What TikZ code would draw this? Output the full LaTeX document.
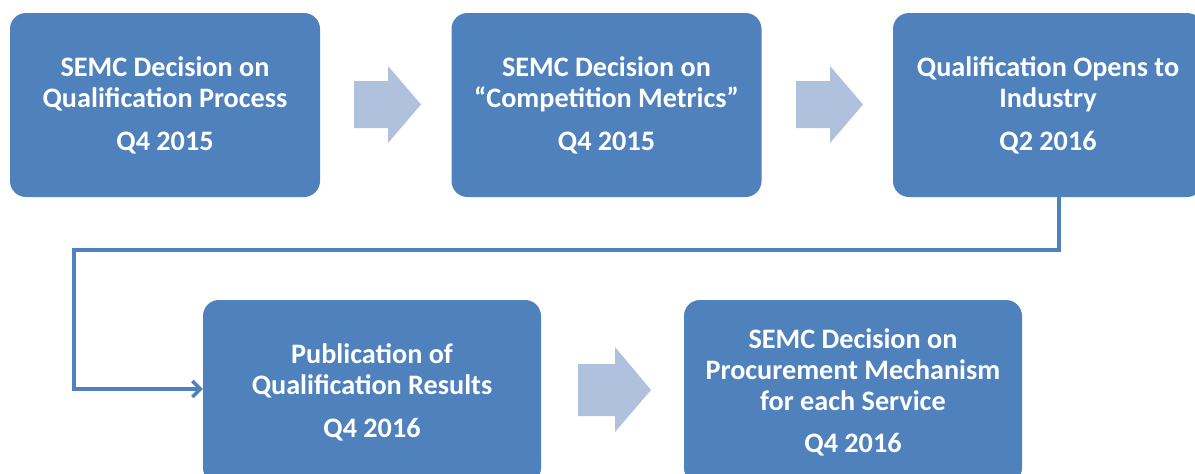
\documentclass[tikz,border=0pt]{standalone}
\usepackage{fontspec}
\setmainfont{Carlito}
\usetikzlibrary{arrows.meta}
\definecolor{boxblue}{HTML}{4F81BD}
\definecolor{arrowblue}{HTML}{B0C1DD}

\begin{document}
\begin{tikzpicture}[x=1pt,y=-1pt,
    stagebox/.style={rounded corners=16pt,fill=boxblue,text=white,align=center,
        minimum width=310pt,minimum height=184pt,inner sep=0pt,
        font=\fontsize{28.2}{31}\selectfont\bfseries},
    widebox/.style={stagebox,minimum width=338pt},
    blockarrow/.style={fill=arrowblue,draw=none},
    conn/.style={draw=boxblue,line width=3.5pt,-{Straight Barb[length=8pt,width=16pt]}}]
        \useasboundingbox (0,0) rectangle (1195,474);
        % first row
        \node[stagebox] (decqual) at (165,105) {SEMC Decision on\\Qualification Process\\[12pt]Q4 2015};
        \node[stagebox] (decmetric) at (606.5,105) {SEMC Decision on\\“Competition Metrics”\\[12pt]Q4 2015};
        \node[stagebox] (qualopen) at (1048,105) {Qualification Opens to\\Industry\\[12pt]Q2 2016};
        % second row
        \node[widebox] (publish) at (372,392) {Publication of\\Qualification Results\\[12pt]Q4 2016};
        \node[widebox] (decproc) at (853,392) {SEMC Decision on\\Procurement Mechanism\\for each Service\\[11pt]Q4 2016};
        % block arrows
        \path[blockarrow] (354,81) -- (388,81) -- (388,66) -- (421,104.5) -- (388,143) -- (388,128) -- (354,128) -- cycle;
        \path[blockarrow] (796,81) -- (830,81) -- (830,66) -- (863,104.5) -- (830,143) -- (830,128) -- (796,128) -- cycle;
        \path[blockarrow] (578,364) -- (615,364) -- (615,347) -- (651,390) -- (615,432) -- (615,416) -- (578,416) -- cycle;
        % connector
        \coordinate (turn) at (74,250);
        \draw[conn] ([xshift=11pt]qualopen.south) |- (turn) |- ([yshift=3pt]publish.west);
    \end{tikzpicture}
\end{document}
